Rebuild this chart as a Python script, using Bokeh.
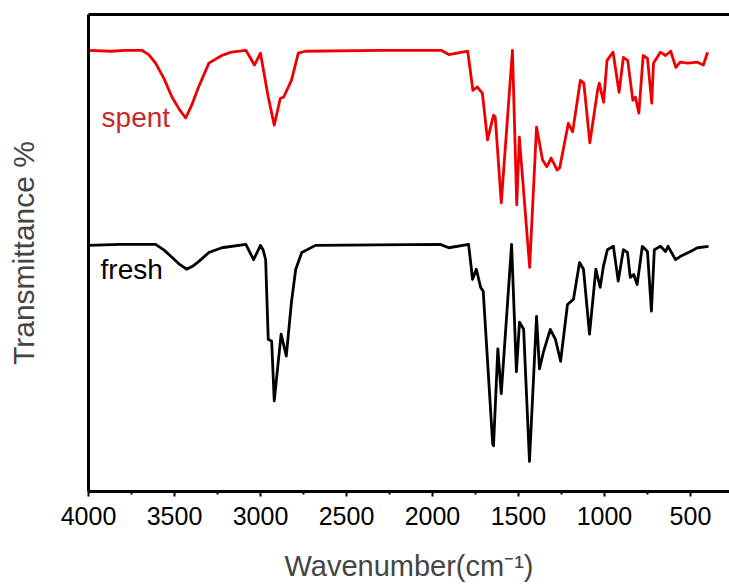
from bokeh.plotting import figure
from bokeh.models import Range1d, LinearAxis, FixedTicker, Label
from bokeh.embed import file_html
from bokeh.resources import INLINE

# ---- data ----
spent_wn = [4000, 3870, 3785, 3690, 3650, 3610, 3560, 3515, 3470, 3435, 3400, 3360, 3300, 3225, 3170, 3085,
            3035, 3000, 2955, 2920, 2885, 2865, 2820, 2780, 2740, 2300, 1950, 1905,
            1795, 1765, 1740, 1710, 1680, 1645, 1635, 1600, 1535, 1510, 1495, 1435,
            1395, 1360, 1335, 1310, 1275, 1260, 1210, 1185, 1140, 1120, 1085, 1040,
            1030, 1005, 985, 950, 915, 890, 865, 835, 820, 800, 775, 750, 725, 715,
            675, 645, 615, 585, 560, 515, 460, 425, 400]
spent_t = [92.5, 92.3, 92.5, 92.5, 91.6, 89.8, 86.5, 82.7, 80.0, 78.3, 81.0, 84.8, 89.8, 91.4, 92.1, 92.5,
           89.4, 91.9, 82.7, 76.8, 82.4, 82.7, 86.2, 91.9, 92.3, 92.5, 92.5, 91.6,
           92.3, 84.1, 84.8, 83.5, 73.7, 78.9, 78.5, 60.5, 92.5, 60.1, 74.3, 47.0,
           76.4, 69.5, 68.1, 69.9, 67.4, 67.9, 77.2, 75.4, 86.2, 85.6, 73.1, 84.1,
           85.6, 81.6, 90.4, 92.1, 83.7, 91.0, 90.4, 82.0, 82.7, 79.3, 91.4, 90.8,
           81.4, 89.8, 92.1, 91.4, 92.3, 88.9, 90.0, 89.8, 90.0, 89.4, 92.1]

fresh_wn = [4000, 3815, 3610, 3560, 3515, 3470, 3430, 3395, 3360, 3300, 3225, 3085, 3040, 3000, 2985,
            2970, 2955, 2935, 2920, 2880, 2850, 2820, 2795, 2760, 2680, 1955, 1905,
            1790, 1767, 1745, 1720, 1705, 1650, 1645, 1620, 1600, 1540, 1512, 1494,
            1470, 1436, 1395, 1378, 1355, 1315, 1285, 1255, 1215, 1180, 1145, 1122,
            1087, 1050, 1025, 1006, 983, 948, 920, 890, 866, 850, 830, 810, 780, 750,
            727, 710, 674, 645, 630, 587, 558, 500, 459, 395]
fresh_t = [51.6, 51.8, 51.8, 50.6, 49.1, 47.6, 46.6, 47.2, 48.2, 50.1, 51.1, 51.8, 48.6, 51.6, 50.7,
           48.6, 31.9, 31.5, 19.0, 33.0, 28.4, 39.7, 46.6, 50.1, 51.6, 51.8, 51.1,
           51.8, 44.5, 46.6, 42.8, 42.0, 10.0, 9.6, 29.9, 20.5, 51.8, 25.1, 35.5,
           34.0, 6.3, 36.7, 25.7, 29.2, 34.0, 31.9, 27.3, 39.2, 40.3, 48.0, 46.6,
           33.0, 46.6, 42.8, 47.2, 50.7, 51.4, 44.1, 50.7, 50.1, 44.9, 45.5, 43.4,
           51.4, 50.3, 37.8, 50.7, 51.4, 50.3, 51.4, 48.6, 49.3, 50.3, 51.1, 51.4]

x_ticks = [4000, 3500, 3000, 2500, 2000, 1500, 1000, 500]
minor_ticks = [3750, 3250, 2750, 2250, 1750, 1250, 750, 250]
series_labels = ["spent", "fresh"]
label_pos = [(3924, 78.5), (3930, 46.6)]

FONT = "Liberation Sans"

p = figure(width=729, height=584, output_backend="svg", toolbar_location=None,
           x_range=Range1d(4000, 273), y_range=Range1d(0, 100),
           min_border_left=88, min_border_right=0, min_border_top=14,
           min_border_bottom=91)
p.outline_line_color = None
p.grid.visible = False
p.background_fill_color = "white"

p.line(spent_wn, spent_t, line_color="#ee0000", line_width=2.8, line_join="round")
p.line(fresh_wn, fresh_t, line_color="black", line_width=2.8, line_join="round")

# bottom axis
xa = p.xaxis[0]
xa.ticker = FixedTicker(ticks=x_ticks, minor_ticks=minor_ticks)
xa.axis_line_width = 3
xa.major_tick_line_width = 2
xa.minor_tick_line_width = 2
xa.major_tick_out = 5
xa.major_tick_in = 0
xa.minor_tick_out = 3
xa.minor_tick_in = 0
xa.major_label_text_font = FONT
xa.major_label_text_font_size = "25px"
xa.major_label_text_color = "black"
xa.major_label_standoff = 10
xa.axis_label = "Wavenumber(cm\u207b\u00b9)"
xa.axis_label_text_font = FONT
xa.axis_label_text_font_size = "29px"
xa.axis_label_text_font_style = "normal"
xa.axis_label_standoff = 22

# left axis
ya = p.yaxis[0]
ya.ticker = FixedTicker(ticks=[])
ya.axis_line_width = 3
ya.major_tick_out = 0
ya.minor_tick_out = 0
ya.major_label_text_font_size = "0px"
ya.axis_label = "Transmittance %"
ya.axis_label_text_font = FONT
ya.axis_label_text_font_size = "30px"
ya.axis_label_text_font_style = "normal"
ya.axis_label_standoff = 49

# top border line
top = LinearAxis(ticker=FixedTicker(ticks=[]), major_label_text_font_size="0px",
                 major_tick_out=0, minor_tick_out=0, axis_line_width=3)
p.add_layout(top, "above")

for txt, (lx, ly), col in zip(series_labels, label_pos, ["#c8282d", "black"]):
    p.add_layout(Label(x=lx, y=ly, text=txt, text_font=FONT, text_font_size="28px",
                       text_color=col, text_baseline="alphabetic"))

open("out.html", "w").write(file_html(p, INLINE))
